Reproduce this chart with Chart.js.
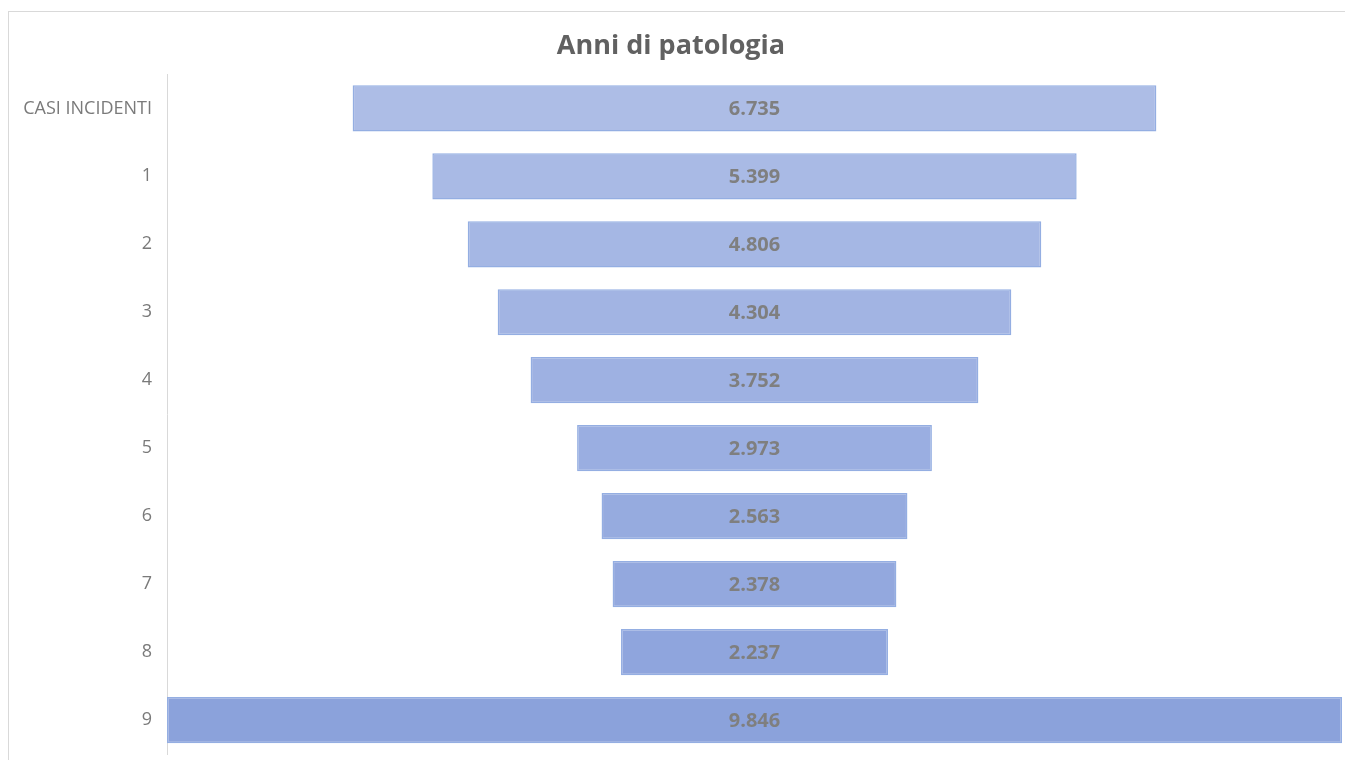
<!DOCTYPE html>
<html>
<head>
<meta charset="utf-8">
<script src="https://cdn.jsdelivr.net/npm/chart.js@4/dist/chart.umd.min.js"></script>
<style>
  html, body { margin: 0; padding: 0; background: #fff; overflow: hidden; }
  #frame {
    position: absolute; left: 8px; top: 11px; width: 1400px; height: 800px;
    border: 1px solid #d9d9d9; box-sizing: border-box;
  }
  #funnel { position: absolute; left: 0; top: 0; }
</style>
</head>
<body>
<div id="frame"></div>
<canvas id="funnel" width="1345" height="760"></canvas>
<script>
const categories = ["CASI INCIDENTI", "1", "2", "3", "4", "5", "6", "7", "8", "9"];
const values = [6735, 5399, 4806, 4304, 3752, 2973, 2563, 2378, 2237, 9846];
const barColors = ["#adbde6", "#a9bae5", "#a5b7e4", "#a2b4e3", "#9eb1e2", "#9aaee1", "#96abdf", "#93a8de", "#8fa5dd", "#8ba2db"];

// funnel: each bar centred on zero
const spans = values.map((v) => [-v / 2, v / 2]);
const maxHalf = Math.max(...values) / 2;

const fmt = (v) => v.toLocaleString("it-IT");

const valueLabels = {
  id: "valueLabels",
  afterDatasetsDraw(chart) {
    const ctx = chart.ctx;
    const meta = chart.getDatasetMeta(0);
    ctx.save();
    ctx.font = "bold 20px 'Open Sans', sans-serif";
    ctx.fillStyle = "#7f7f7f";
    ctx.textAlign = "center";
    ctx.textBaseline = "middle";
    meta.data.forEach((bar, i) => {
      const x = (bar.x + bar.base) / 2;
      ctx.fillText(fmt(values[i]), x, bar.y + 1);
    });
    ctx.restore();
  },
};

window.onload = () => {
  const ctx = document.getElementById("funnel").getContext("2d");
  new Chart(ctx, {
    type: "bar",
    data: {
      labels: categories,
      datasets: [
        {
          label: "Anni di patologia",
          data: spans,
          backgroundColor: barColors,
          borderColor: "#94aee2",
          borderWidth: 1.5,
          borderSkipped: false,
          barPercentage: 0.68,
          categoryPercentage: 1,
        },
      ],
    },
    options: {
      indexAxis: "y",
      responsive: false,
      animation: false,
      layout: { padding: { left: 0, right: 3, top: 0, bottom: 6 } },
      plugins: {
        legend: { display: false },
        tooltip: { enabled: false },
        title: {
          display: true,
          text: "Anni di patologia",
          color: "#616161",
          font: { family: "'Open Sans', sans-serif", size: 27, weight: "bold" },
          padding: { top: 30, bottom: 12 },
        },
      },
      scales: {
        x: {
          display: false,
          min: -maxHalf,
          max: maxHalf,
          afterFit: (scale) => { scale.height = 0; },
        },
        y: {
          afterFit: (scale) => {
            scale.width = 167;
            scale.paddingTop = 0;
            scale.paddingBottom = 0;
          },
          grid: { display: false, drawTicks: false },
          border: { display: true, color: "#d9d9d9", width: 1 },
          ticks: {
            color: "#7a7a7a",
            padding: 15,
            font: { family: "'Open Sans', sans-serif", size: 18 },
          },
        },
      },
    },
    plugins: [valueLabels],
  });
};
</script>
</body>
</html>
